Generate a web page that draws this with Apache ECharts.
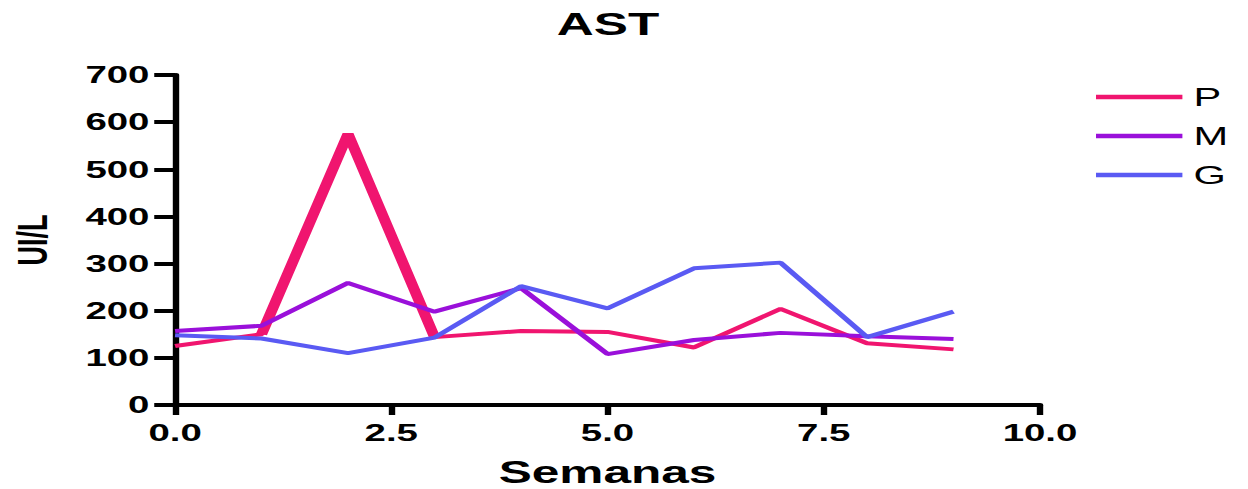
<!DOCTYPE html>
<html>
<head>
<meta charset="utf-8">
<script src="https://cdn.jsdelivr.net/npm/echarts@6/dist/echarts.min.js"></script>
<style>
html,body{margin:0;padding:0;background:#fff;}
#wrap{width:1248px;height:489px;overflow:hidden;position:relative;}
#main{width:780px;height:489px;transform:scaleX(1.6);transform-origin:0 0;}
</style>
</head>
<body>
<div id="wrap"><div id="main"></div></div>
<script>
// Data
var weeks = [0, 1, 2, 3, 4, 5, 6, 7, 8, 9];
var P = [125, 150, 575, 144, 157, 155, 122, 204, 131, 118];
var M = [157, 168, 259, 198, 248, 108, 138, 153, 146, 140];
var G = [148, 141, 110, 143, 252, 205, 290, 302, 144, 198];
var seriesNames = ['P', 'M', 'G'];
var xTicks = [0, 2.5, 5, 7.5, 10];
var yTicks = [0, 100, 200, 300, 400, 500, 600, 700];

function pairs(xs, ys) { return xs.map(function (x, i) { return [x, ys[i]]; }); }

var colors = { P: '#F0156F', M: '#9A10DA', G: '#5A5AF3' };
var font = 'Liberation Sans, Arial, sans-serif';

var chart = echarts.init(document.getElementById('main'), null, { renderer: 'svg' });
chart.setOption({
  animation: false,
  backgroundColor: '#fff',
  title: {
    text: 'AST', left: 348, top: 8, padding: 0,
    textStyle: { fontFamily: font, fontWeight: 'bold', fontSize: 32, color: '#000' }
  },
  legend: {
    orient: 'vertical', left: 680, top: 79,
    data: seriesNames,
    itemWidth: 54, itemHeight: 4.5, itemGap: 13,
    icon: 'rect',
    textStyle: { fontFamily: font, fontSize: 26, color: '#000', padding: [0, 0, 0, 2] }
  },
  grid: { left: 109.4, right: 130, top: 75, bottom: 84, containLabel: false, outerBoundsMode: 'none' },
  xAxis: {
    type: 'value', min: xTicks[0], max: xTicks[xTicks.length - 1], interval: 2.5,
    name: 'Semanas', nameLocation: 'middle', nameGap: 52,
    nameTextStyle: { fontFamily: font, fontWeight: 'bold', fontSize: 31, color: '#000' },
    axisLine: { lineStyle: { color: '#000', width: 4 } },
    axisTick: { show: true, length: 10, lineStyle: { color: '#000', width: 4 } },
    axisLabel: {
      margin: 16, color: '#000', fontFamily: font, fontWeight: 'bold', fontSize: 24,
      formatter: function (v) { return v.toFixed(1); }
    },
    splitLine: { show: false }
  },
  yAxis: {
    type: 'value', min: yTicks[0], max: yTicks[yTicks.length - 1], interval: 100,
    name: 'UI/L', nameLocation: 'middle', nameRotate: 90, nameGap: 76,
    nameTextStyle: { fontFamily: font, fontWeight: 'bold', fontSize: 27, color: '#000' },
    axisLine: { show: true, lineStyle: { color: '#000', width: 4 } },
    axisTick: { show: true, length: 13, lineStyle: { color: '#000', width: 4 } },
    axisLabel: { margin: 16, color: '#000', fontFamily: font, fontWeight: 'bold', fontSize: 24 },
    splitLine: { show: false }
  },
  series: [
    { name: 'P', type: 'line', data: pairs(weeks, P), showSymbol: false, symbol: 'none',
      color: colors.P, lineStyle: { width: 4, color: colors.P } },
    { name: 'P-thick', type: 'line', data: pairs(weeks.slice(1, 4), P.slice(1, 4)), showSymbol: false, symbol: 'none',
      color: colors.P, lineStyle: { width: 7, color: colors.P }, legendHoverLink: false },
    { name: 'M', type: 'line', data: pairs(weeks, M), showSymbol: false, symbol: 'none',
      color: colors.M, lineStyle: { width: 4, color: colors.M } },
    { name: 'G', type: 'line', data: pairs(weeks, G), showSymbol: false, symbol: 'none',
      color: colors.G, lineStyle: { width: 4, color: colors.G } }
  ]
});
</script>
</body>
</html>
